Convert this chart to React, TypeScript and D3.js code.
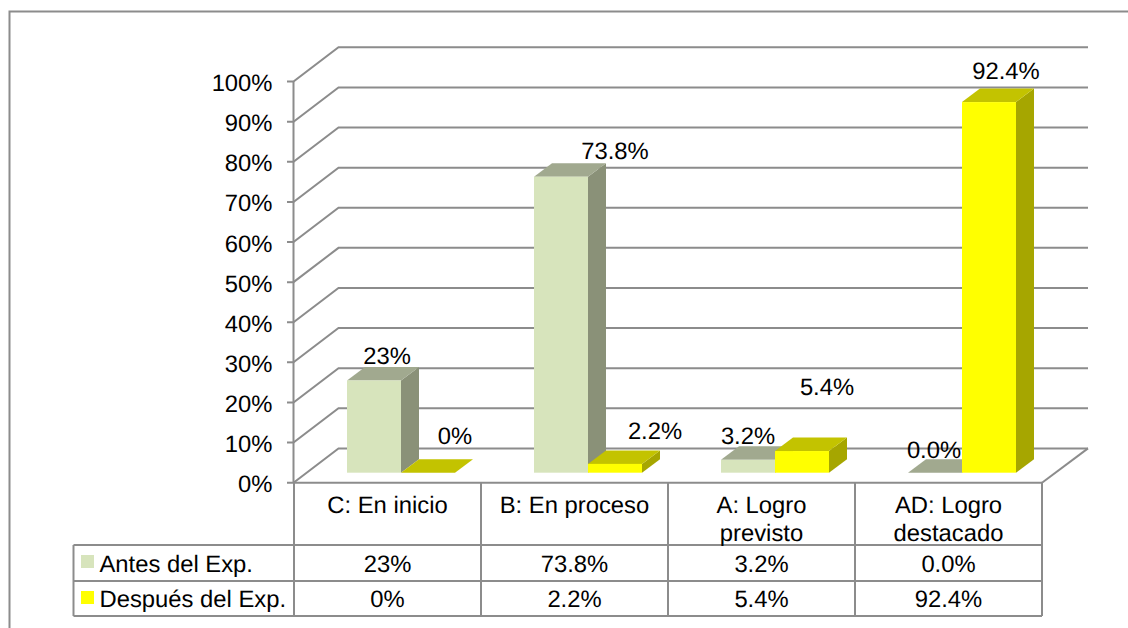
import React from "react";
import * as d3 from "d3";

const categories = [["C: En inicio"], ["B: En proceso"], ["A: Logro", "previsto"], ["AD: Logro", "destacado"]];
const seriesNames = ["Antes del Exp.", "Después del Exp."];
const antes = [23, 73.8, 3.2, 0];
const despues = [0, 2.2, 5.4, 92.4];
const antesLabels = ["23%", "73.8%", "3.2%", "0.0%"];
const despuesLabels = ["0%", "2.2%", "5.4%", "92.4%"];
const ticks = [0, 10, 20, 30, 40, 50, 60, 70, 80, 90, 100];

// label anchor offsets from each bar's top-front centre (layout, not data)
const antesOffsets = [[13, -16], [54, -18], [0, -16], [-1, -15]];
const despuesOffsets = [[27, -29], [40, -25], [25, -56], [17, -23]];

const W = 1128, H = 628;
const GRID = "#8c8c8c";
const FONT = "'Liberation Sans', Arial, sans-serif";
const FS = 23.8;
const DX = 46, DY = 34.3;     // depth of the floor
const BDX = 18, BDY = 13.5;   // depth of a bar
const FLOOR_SHIFT = 10;       // bar base above the front edge

const left = 294, right = 1042;
const y = d3.scaleLinear().domain([0, 100]).range([482.7, 81.6]);
const x0 = d3.scaleBand<number>().domain(d3.range(4)).range([left, right]);
const x1 = d3.scaleBand<number>().domain([0, 1]).range([53, 161]);

const seriesStyle = [
  { front: "#D7E4BC", side: "#8A9178", top: "#A1A98F", values: antes, labels: antesLabels, off: antesOffsets },
  { front: "#FFFF00", side: "#A6A600", top: "#C3C300", values: despues, labels: despuesLabels, off: despuesOffsets },
];
const pts = (a: number[][]) => a.map((p) => p.join(",")).join(" ");

export default function App() {
  const tableTop = 482.7, row1 = 545, row2 = 581, row3 = 616, tableLeft = 73.5;
  const colEdges = d3.range(5).map((i) => left + i * x0.step());
  const line = (x1_: number, y1: number, x2: number, y2: number, k: string) => (
    <line key={k} x1={x1_} y1={y1} x2={x2} y2={y2} stroke={GRID} strokeWidth={2} />
  );
  const txt = (s: string, x: number, yy: number, anchor: string, k: string) => (
    <text key={k} x={x} y={yy} textAnchor={anchor} fontFamily={FONT} fontSize={FS} fill="#000" textRendering="geometricPrecision">{s}</text>
  );
  return (
    <svg width={W} height={H} style={{ position: "absolute", left: 0, top: 0, background: "#fff" }}>
      <path d={`M9.5 ${H} V11.5 H${W}`} fill="none" stroke={GRID} strokeWidth={2} />

      {ticks.map((t) => (
        <g key={t}>
          <polyline points={pts([[287, y(t)], [left - 0.5, y(t)], [left - 0.5 + DX - 1, y(t) - DY], [right + DX, y(t) - DY]])} fill="none" stroke={GRID} strokeWidth={2} />
          {txt(`${t}%`, 272.5, y(t) + 9.5, "end", `t${t}`)}
        </g>
      ))}
      {line(left - 0.5, y(100), left - 0.5, y(0), "yaxis")}
      {line(right, y(0), right + DX, y(0) - DY, "floorR")}

      {d3.range(4).map((c) =>
        seriesStyle.map((s, i) => {
          const xa = x0(c)! + x1(i)!;
          const xb = xa + x1.bandwidth();
          const base = y(0) - FLOOR_SHIFT;
          const top = y(s.values[c]) - FLOOR_SHIFT;
          return (
            <g key={`${c}-${i}`}>
              <polygon points={pts([[xb, top], [xb + BDX, top - BDY], [xb + BDX, base - BDY], [xb, base]])} fill={s.side} />
              <polygon points={pts([[xa, top], [xa + BDX, top - BDY], [xb + BDX, top - BDY], [xb, top]])} fill={s.top} />
              <rect x={xa} y={top} width={xb - xa} height={base - top} fill={s.front} />
            </g>
          );
        })
      )}

      {d3.range(4).map((c) =>
        seriesStyle.map((s, i) => {
          const xa = x0(c)! + x1(i)!;
          const top = y(s.values[c]) - FLOOR_SHIFT;
          return txt(s.labels[c], xa + x1.bandwidth() / 2 + s.off[c][0], top + s.off[c][1], "middle", `v${c}-${i}`);
        })
      )}

      {line(left, tableTop, right, tableTop, "hT")}
      {line(tableLeft, row1, right, row1, "h1")}
      {line(tableLeft, row2, right, row2, "h2")}
      {line(tableLeft, row3, right, row3, "h3")}
      {line(tableLeft, row1, tableLeft, row3, "vL")}
      {colEdges.map((e, i) => line(e, tableTop, e, row3, `c${i}`))}

      {categories.map((lines, c) =>
        lines.map((l, j) => txt(l, x0(c)! + x0.step() / 2, 513 + j * 28, "middle", `cat${c}-${j}`))
      )}
      {seriesStyle.map((s, i) => {
        const rowY = i === 0 ? row1 : row2;
        const base = i === 0 ? 571.5 : 607;
        return (
          <g key={i}>
            <rect x={81} y={rowY + 10} width={13} height={13} fill={s.front} />
            {txt(seriesNames[i], 99.5, base, "start", `n${i}`)}
            {s.labels.map((l, c) => txt(l, x0(c)! + x0.step() / 2, base, "middle", `r${i}-${c}`))}
          </g>
        );
      })}
    </svg>
  );
}
